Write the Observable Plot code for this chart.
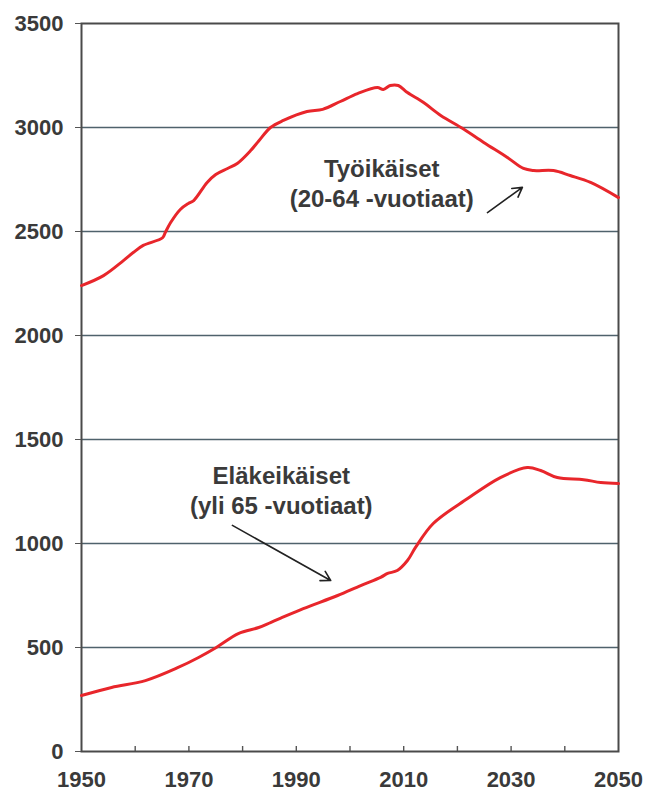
<!DOCTYPE html>
<html>
<head>
<meta charset="utf-8">
<script src="https://cdn.jsdelivr.net/npm/d3@7"></script>
<script src="https://cdn.jsdelivr.net/npm/@observablehq/plot@0.6"></script>
<style>
  html, body { margin: 0; padding: 0; background: #ffffff; }
</style>
</head>
<body>
<div id="chart"></div>
<script>
// Työikäiset (20-64 -vuotiaat), thousands
const workYears = [1950, 1954.1, 1957.8, 1959.7, 1961.5, 1965.1, 1965.6, 1966.6, 1968.4, 1969.9, 1970.9, 1973.4, 1975, 1977.2, 1979, 1981.5, 1983, 1985.2, 1987.6, 1992, 1994.9, 1998.2, 2001.4, 2005.1, 2006.2, 2007.5, 2009, 2010.7, 2013.7, 2016.9, 2021, 2024.9, 2029.3, 2032.3, 2034.2, 2037.9, 2041, 2044.8, 2050];
const workValues = [2240, 2288, 2360, 2400, 2433, 2470, 2495, 2543, 2606, 2635, 2649, 2736, 2774, 2803, 2827, 2889, 2935, 3000, 3034, 3077, 3087, 3125, 3163, 3192, 3183, 3202, 3202, 3168, 3120, 3058, 2995, 2928, 2856, 2803, 2793, 2793, 2769, 2736, 2663];

// Eläkeikäiset (yli 65 -vuotiaat), thousands
const retYears = [1950, 1955.6, 1961.9, 1968, 1971.8, 1975.1, 1979.2, 1983, 1985.2, 1987, 1991.3, 1997.7, 2002, 2005.7, 2007, 2008.8, 2010.7, 2012.2, 2015.5, 2021.9, 2028, 2033, 2035.5, 2038.6, 2043.5, 2046.7, 2050];
const retValues = [269, 308, 341, 404, 452, 500, 567, 596, 620, 640, 687, 750, 798, 837, 856, 870, 918, 981, 1096, 1216, 1317, 1365, 1351, 1317, 1307, 1293, 1288];

const yTicks = [0, 500, 1000, 1500, 2000, 2500, 3000, 3500];
const gridValues = [500, 1000, 1500, 2000, 2500, 3000];
const xTickLabels = [1950, 1970, 1990, 2010, 2030, 2050];
const decadeTicks = [1960, 1970, 1980, 1990, 2000, 2010, 2020, 2030, 2040];

const labelNames = ["Työikäiset\n(20-64 -vuotiaat)", "Eläkeikäiset\n(yli 65 -vuotiaat)"];
const labelX = [2005.9, 1987.2];
const labelY = [2735, 1262];

const arrowX1 = [2025.6, 1978.1];
const arrowY1 = [2591, 1087];
const arrowX2 = [2032.1, 1996.4];
const arrowY2 = [2712, 822];

const work = workYears.map((y, i) => ({year: y, value: workValues[i]}));
const ret = retYears.map((y, i) => ({year: y, value: retValues[i]}));
const labels = labelNames.map((t, i) => ({text: t, x: labelX[i], y: labelY[i]}));
const arrows = arrowX1.map((x, i) => ({x1: x, y1: arrowY1[i], x2: arrowX2[i], y2: arrowY2[i]}));

const W = 645, H = 796;
const chart = Plot.plot({
  width: W,
  height: H,
  marginLeft: 81,
  marginRight: 27,
  marginTop: 23,
  marginBottom: 45,
  style: {fontFamily: "'Liberation Sans', Arial, Helvetica, sans-serif", background: "#ffffff", color: "#3a3a3a"},
  x: {domain: [1950, 2050]},
  y: {domain: [0, 3500]},
  marks: [
    Plot.ruleY(gridValues, {stroke: "#4f626c", strokeWidth: 1.6}),
    Plot.tickX(decadeTicks, {x: d => d, insetTop: 723, stroke: "#555", strokeWidth: 1.4}),
    Plot.frame({stroke: "#4a4a4a", strokeWidth: 2}),
    Plot.axisY({ticks: yTicks, tickSize: 6, tickPadding: 12, fontSize: 22, fontWeight: "bold", label: null, tickFormat: d => String(d), stroke: "#555"}),
    Plot.axisX({ticks: xTickLabels, tickSize: 0, tickPadding: 20, fontSize: 22, fontWeight: "bold", label: null, tickFormat: d => String(d)}),
    Plot.line(work, {x: "year", y: "value", stroke: "#e8262b", strokeWidth: 3, curve: "catmull-rom"}),
    Plot.line(ret, {x: "year", y: "value", stroke: "#e8262b", strokeWidth: 3, curve: "catmull-rom"}),
    Plot.arrow(arrows, {x1: "x1", y1: "y1", x2: "x2", y2: "y2", stroke: "#222", strokeWidth: 1.6, headLength: 10}),
    Plot.text(labels, {x: "x", y: "y", text: "text", fontSize: 24, fontWeight: "bold", lineHeight: 1.25, fill: "#3a3a3a"})
  ]
});
document.getElementById("chart").appendChild(chart);
</script>
</body>
</html>
